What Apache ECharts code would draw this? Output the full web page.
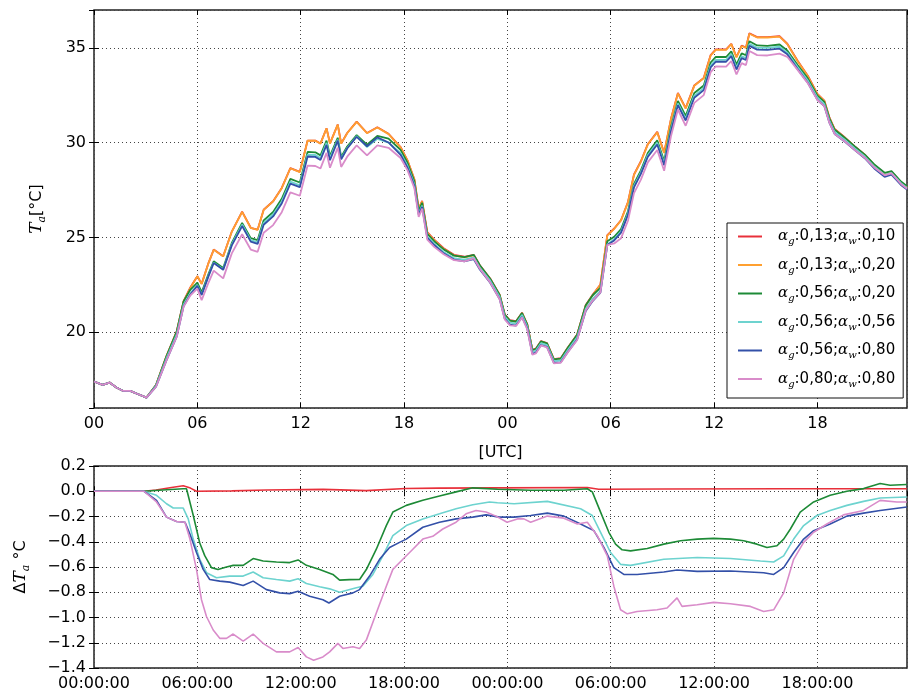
<!DOCTYPE html>
<html><head><meta charset="utf-8">
<script src="https://cdn.jsdelivr.net/npm/echarts@6/dist/echarts.min.js"></script>
<style>html,body{margin:0;padding:0;background:#fff}#c{width:908px;height:697px}</style>
</head><body><div id="c"></div>
<script>
// ---- legend labels ----
const agVals = ['0,13','0,13','0,56','0,56','0,56','0,80'];
const awVals = ['0,10','0,20','0,20','0,56','0,80','0,80'];

// ---- x tick labels ----
const topXTicks = ['00','06','12','18','00','06','12','18'];
const botXTicks = ['00:00:00','06:00:00','12:00:00','18:00:00','00:00:00','06:00:00','12:00:00','18:00:00'];

// ---- top panel: time (hours since start) and Ta [°C] ----
const hoursTop = [0,0.5,0.9,1.3,1.7,2.1,2.5,3.05,
3.6,4.2,4.8,5.2,5.6,6.0,6.25,6.65,6.95,7.5,
8.0,8.6,9.1,9.5,9.85,10.4,10.9,11.4,11.95,12.4,
12.85,13.15,13.5,13.7,14.15,14.35,14.7,15.25,15.85,16.45,
17.1,17.8,18.2,18.6,18.85,19.05,19.35,19.75,20.3,20.9,
21.5,22.05,22.4,23.0,23.55,23.85,24.15,24.5,24.85,25.15,
25.45,25.65,25.95,26.3,26.7,27.1,27.5,28.05,28.55,28.95,
29.4,29.8,30.2,30.6,31.0,31.35,31.75,32.15,32.7,33.1,
33.5,33.9,34.35,34.85,35.4,35.8,36.1,36.7,37.0,37.3,
37.6,37.85,38.05,38.5,39.1,39.8,40.25,40.85,41.45,42.0,
42.4,42.7,43.0,43.6,44.15,44.75,45.3,45.9,46.3,46.85,
47.2];

const tRed = [17.4,17.22,17.34,17.08,16.9,16.9,16.75,16.55,
17.21,18.73,20.04,21.64,22.37,22.95,22.55,23.66,24.36,24.01,
25.31,26.36,25.51,25.41,26.46,26.91,27.61,28.66,28.46,30.11,
30.11,29.96,30.76,29.96,30.96,29.96,30.51,31.11,30.51,30.81,
30.47,29.77,29.07,28.07,26.52,26.93,25.28,24.88,24.43,24.08,
23.98,24.08,23.53,22.83,21.98,20.93,20.63,20.58,21.03,20.43,
19.08,19.13,19.53,19.43,18.58,18.63,19.18,19.88,21.43,21.97,
22.52,25.12,25.47,25.92,26.87,28.32,29.02,29.92,30.57,29.47,
31.27,32.62,31.82,33.02,33.42,34.62,34.92,34.92,35.22,34.52,
35.12,35.02,35.77,35.57,35.57,35.62,35.22,34.32,33.52,32.57,
32.22,31.32,30.72,30.27,29.82,29.37,28.82,28.37,28.47,27.92,
27.67];

const tOrange = [17.4,17.22,17.34,17.08,16.9,16.9,16.75,16.55,
17.2,18.7,20.0,21.6,22.35,22.95,22.55,23.65,24.35,24.0,
25.3,26.35,25.5,25.4,26.45,26.9,27.6,28.65,28.45,30.1,
30.1,29.95,30.75,29.95,30.95,29.95,30.5,31.1,30.5,30.8,
30.45,29.75,29.05,28.05,26.5,26.9,25.25,24.85,24.4,24.05,
23.95,24.05,23.5,22.8,21.95,20.9,20.6,20.55,21.0,20.4,
19.05,19.1,19.5,19.4,18.55,18.6,19.15,19.85,21.4,21.95,
22.5,25.1,25.45,25.9,26.85,28.3,29.0,29.9,30.55,29.45,
31.25,32.6,31.8,33.0,33.4,34.6,34.9,34.9,35.2,34.5,
35.1,35.0,35.75,35.55,35.55,35.6,35.2,34.3,33.5,32.55,
32.2,31.3,30.7,30.25,29.8,29.35,28.8,28.35,28.45,27.9,
27.65];

const tGreen = [17.4,17.22,17.34,17.08,16.9,16.9,16.75,16.55,
17.21,18.71,20.02,21.62,22.25,22.62,22.11,23.08,23.74,23.39,
24.71,25.76,24.96,24.86,25.9,26.34,27.04,28.09,27.9,29.51,
29.49,29.33,30.11,29.3,30.26,29.25,29.8,30.4,29.89,30.36,
30.21,29.62,28.94,27.96,26.42,26.83,25.19,24.8,24.37,24.04,
23.96,24.08,23.53,22.82,21.97,20.92,20.61,20.56,21.01,20.41,
19.06,19.11,19.51,19.41,18.56,18.61,19.16,19.87,21.42,21.95,
22.34,24.8,25.03,25.44,26.38,27.83,28.54,29.45,30.12,29.03,
30.84,32.2,31.41,32.62,33.02,34.23,34.53,34.52,34.82,34.12,
34.71,34.61,35.35,35.13,35.11,35.18,34.86,34.1,33.38,32.48,
32.15,31.27,30.68,30.25,29.81,29.37,28.85,28.41,28.5,27.95,
27.7];

const tCyan = [17.4,17.22,17.34,17.08,16.9,16.9,16.75,16.55,
17.17,18.6,19.87,21.45,22.06,22.48,21.98,22.99,23.67,23.32,
24.63,25.68,24.86,24.74,25.77,26.21,26.9,27.94,27.75,29.37,
29.35,29.19,29.99,29.18,30.16,29.15,29.72,30.34,29.77,30.2,
30.0,29.45,28.78,27.8,26.26,26.68,25.04,24.66,24.23,23.91,
23.83,23.95,23.4,22.72,21.86,20.81,20.51,20.45,20.91,20.31,
18.96,19.02,19.42,19.32,18.47,18.51,19.05,19.73,21.24,21.76,
22.18,24.63,24.91,25.32,26.27,27.72,28.43,29.34,30.0,28.91,
30.72,32.07,31.27,32.47,32.88,34.07,34.37,34.37,34.67,33.96,
34.56,34.46,35.21,35.0,35.0,35.06,34.75,33.99,33.26,32.37,
32.03,31.15,30.56,30.14,29.71,29.27,28.74,28.3,28.4,27.86,
27.61];

const tBlue = [17.4,17.22,17.34,17.08,16.9,16.9,16.75,16.55,
17.13,18.5,19.76,21.36,22.0,22.45,21.96,22.96,23.65,23.29,
24.58,25.6,24.78,24.66,25.67,26.11,26.79,27.84,27.65,29.27,
29.25,29.09,29.88,29.07,30.11,29.12,29.69,30.31,29.81,30.28,
30.01,29.36,28.68,27.72,26.2,26.61,24.98,24.6,24.16,23.83,
23.74,23.85,23.31,22.61,21.75,20.7,20.4,20.35,20.8,20.21,
18.86,18.92,19.32,19.23,18.38,18.41,18.94,19.61,21.12,21.64,
22.09,24.6,24.84,25.25,26.19,27.64,28.35,29.25,29.9,28.81,
30.62,31.98,31.17,32.37,32.77,33.97,34.27,34.27,34.57,33.86,
34.46,34.36,35.11,34.91,34.9,34.96,34.66,33.88,33.15,32.26,
31.93,31.04,30.46,30.05,29.62,29.18,28.64,28.2,28.31,27.77,
27.53];

const tPink = [17.4,17.22,17.34,17.08,16.9,16.9,16.75,16.55,
17.12,18.5,19.76,21.35,21.95,22.3,21.69,22.62,23.25,22.84,
24.16,25.17,24.36,24.24,25.25,25.65,26.33,27.38,27.2,28.79,
28.77,28.64,29.46,28.68,29.74,28.72,29.26,29.86,29.33,29.86,
29.73,29.19,28.55,27.6,26.08,26.52,24.88,24.5,24.11,23.8,
23.74,23.9,23.35,22.63,21.74,20.67,20.36,20.33,20.78,20.16,
18.81,18.88,19.3,19.2,18.35,18.39,18.93,19.59,21.16,21.67,
22.1,24.59,24.68,24.96,25.88,27.34,28.05,28.96,29.61,28.52,
30.35,31.75,30.89,32.1,32.51,33.72,34.02,34.01,34.31,33.6,
34.2,34.09,34.84,34.62,34.6,34.7,34.53,33.84,33.13,32.25,
31.93,31.04,30.46,30.06,29.63,29.2,28.69,28.28,28.38,27.82,
27.57];

// ---- bottom panel: [hour, ΔTa] ----
const dRed = [[0,0],[2.9,0],[3.6,0.01],[4.5,0.03],[5.18,0.043],[5.6,0.025],[5.95,0.0],[8,0.003],[10,0.01],[13.3,0.015],[15.8,0.005],[18.1,0.022],[20,0.025],[23.4,0.027],[28.64,0.03],[29.3,0.016],[33,0.018],[40,0.02],[47.19,0.02]];

const dGreen = [[0,0],[2.9,0],[4,0.01],[5.18,0.02],[5.37,0.02],[5.76,-0.19],[6.14,-0.41],[6.43,-0.51],[6.82,-0.605],[7.2,-0.62],[7.69,-0.6],[8.08,-0.587],[8.66,-0.587],[9.24,-0.533],[9.82,-0.552],[10.59,-0.56],[11.36,-0.565],[11.85,-0.544],[12.33,-0.587],[13.1,-0.619],[13.87,-0.659],[14.26,-0.704],[14.84,-0.7],[15.42,-0.699],[15.81,-0.62],[16.39,-0.459],[16.97,-0.272],[17.35,-0.165],[18.13,-0.112],[19.09,-0.072],[20.06,-0.037],[21.02,-0.005],[21.99,0.027],[23.42,0.016],[25.35,0.008],[27.28,0.008],[28.64,0.02],[28.93,-0.005],[29.41,-0.165],[29.89,-0.325],[30.28,-0.419],[30.66,-0.464],[31.15,-0.472],[32.12,-0.453],[33.08,-0.419],[34.05,-0.392],[35.02,-0.379],[35.98,-0.373],[36.95,-0.379],[37.72,-0.392],[38.49,-0.419],[39.07,-0.445],[39.65,-0.432],[40.04,-0.379],[40.43,-0.299],[41.0,-0.165],[41.78,-0.085],[42.74,-0.032],[43.71,0],[44.68,0.021],[45.64,0.061],[46.22,0.048],[47.19,0.053]];

const dCyan = [[0,0],[2.9,0],[3.63,-0.032],[4.21,-0.099],[4.6,-0.133],[5.18,-0.133],[5.47,-0.219],[5.76,-0.379],[6.14,-0.539],[6.53,-0.645],[7.11,-0.685],[7.88,-0.672],[8.66,-0.672],[9.24,-0.64],[9.82,-0.685],[10.59,-0.699],[11.36,-0.712],[11.85,-0.693],[12.33,-0.731],[13.1,-0.757],[13.68,-0.773],[14.26,-0.8],[15.23,-0.765],[15.61,-0.752],[16.19,-0.659],[16.77,-0.512],[17.35,-0.352],[18.13,-0.272],[19.09,-0.219],[20.06,-0.179],[21.02,-0.139],[21.99,-0.107],[22.96,-0.085],[23.42,-0.091],[24.39,-0.099],[26.32,-0.08],[28.25,-0.139],[28.93,-0.192],[29.41,-0.325],[29.99,-0.485],[30.57,-0.579],[31.15,-0.587],[33.08,-0.539],[35.02,-0.525],[36.95,-0.533],[38.69,-0.552],[39.46,-0.56],[40.04,-0.512],[40.62,-0.379],[41.2,-0.272],[41.97,-0.192],[42.74,-0.152],[43.71,-0.112],[44.68,-0.08],[45.64,-0.053],[47.19,-0.045]];

const dBlue = [[0,0],[2.9,0],[3.63,-0.072],[4.21,-0.205],[4.79,-0.24],[5.28,-0.245],[5.57,-0.339],[5.95,-0.485],[6.34,-0.619],[6.72,-0.699],[7.3,-0.712],[7.88,-0.72],[8.66,-0.747],[9.24,-0.712],[10.01,-0.779],[10.78,-0.805],[11.36,-0.811],[11.85,-0.792],[12.52,-0.832],[13.29,-0.859],[13.64,-0.885],[14.26,-0.832],[15.03,-0.805],[15.42,-0.779],[16.0,-0.672],[16.58,-0.539],[17.16,-0.445],[17.74,-0.405],[18.13,-0.379],[19.09,-0.285],[20.06,-0.245],[21.02,-0.219],[21.99,-0.205],[22.76,-0.187],[23.54,-0.205],[24.39,-0.205],[25.35,-0.192],[26.32,-0.173],[27.28,-0.197],[28.25,-0.259],[29.02,-0.312],[29.6,-0.445],[30.18,-0.605],[30.76,-0.659],[31.53,-0.659],[33.08,-0.64],[33.85,-0.624],[35.02,-0.635],[36.95,-0.632],[38.88,-0.645],[39.46,-0.659],[40.04,-0.605],[40.62,-0.485],[41.2,-0.379],[41.78,-0.312],[42.74,-0.259],[43.71,-0.197],[44.68,-0.173],[45.64,-0.152],[47.19,-0.125]];

const dPink = [[0,0],[2.9,0],[3.63,-0.085],[4.21,-0.205],[4.79,-0.24],[5.28,-0.245],[5.57,-0.379],[5.95,-0.619],[6.24,-0.859],[6.53,-0.992],[6.92,-1.099],[7.3,-1.165],[7.69,-1.165],[8.08,-1.131],[8.66,-1.187],[9.24,-1.131],[9.82,-1.205],[10.59,-1.272],[11.36,-1.272],[11.85,-1.237],[12.33,-1.312],[12.75,-1.339],[13.29,-1.312],[13.68,-1.272],[14.16,-1.205],[14.45,-1.245],[15.03,-1.232],[15.42,-1.245],[15.81,-1.179],[16.39,-0.965],[16.97,-0.752],[17.35,-0.619],[17.93,-0.539],[18.51,-0.459],[19.09,-0.379],[19.67,-0.357],[20.25,-0.299],[21.02,-0.245],[21.6,-0.179],[22.18,-0.152],[22.76,-0.165],[23.34,-0.197],[23.98,-0.245],[24.58,-0.219],[24.96,-0.219],[25.35,-0.245],[26.32,-0.197],[27.28,-0.213],[28.06,-0.259],[28.64,-0.245],[29.22,-0.352],[29.8,-0.512],[30.18,-0.752],[30.57,-0.939],[30.96,-0.971],[31.53,-0.952],[32.69,-0.939],[33.27,-0.925],[33.85,-0.845],[34.14,-0.912],[35.02,-0.899],[35.98,-0.88],[36.95,-0.891],[38.11,-0.912],[38.88,-0.952],[39.46,-0.939],[40.04,-0.805],[40.62,-0.539],[41.2,-0.405],[41.78,-0.325],[42.55,-0.259],[43.51,-0.187],[44.68,-0.152],[45.64,-0.072],[46.61,-0.085],[47.19,-0.085]];

// ---- chart ----
const colors = ['#e8303a','#ffa030','#1d8a36','#6dd3cf','#3350a8','#d98cca'];
const names = agVals.map((g,i)=>'αg:'+g+';αw:'+awVals[i]);
const topSeries = [tRed,tOrange,tGreen,tCyan,tBlue,tPink];
const botSeries = [dRed,null,dGreen,dCyan,dBlue,dPink];

const FONT = 'DejaVu Sans';
const XMAX = 47.2;
const gridLine = {show:true, lineStyle:{color:'#444', type:[1,3], width:1}};
const tick = {show:true, inside:true, length:5, lineStyle:{color:'#000', width:1}};
const lbl = {color:'#000', fontFamily:FONT, fontSize:16};

function xAxis(grid, pos, labels) {
  return {type:'value', gridIndex:grid, position:pos, min:0, max:XMAX, interval:6,
    axisLine:{show:false}, axisTick:tick,
    axisLabel:Object.assign({show:!!labels, showMaxLabel:false, margin:8,
      formatter:(v)=>labels?labels[Math.round(v/6)]:''}, lbl),
    splitLine: pos==='bottom' ? gridLine : {show:false}};
}

const rich = {
  i:{fontFamily:'DejaVu Serif', fontStyle:'italic', fontSize:17, lineHeight:22, color:'#000'},
  s:{fontFamily:'DejaVu Serif', fontStyle:'italic', fontSize:11, lineHeight:11, verticalAlign:'bottom', color:'#000'},
  n:{fontFamily:FONT, fontSize:16, lineHeight:22, color:'#000'}
};

const option = {
  animation:false,
  backgroundColor:'#fff',
  grid:[
    {left:94, top:10, width:813, height:398, show:true, borderColor:'#222', borderWidth:1.5, backgroundColor:'transparent'},
    {left:94, top:466, width:813, height:202, show:true, borderColor:'#222', borderWidth:1.5, backgroundColor:'transparent'}
  ],
  xAxis:[
    Object.assign(xAxis(0,'bottom',topXTicks), {name:'[UTC]', nameLocation:'middle', nameGap:37,
      nameTextStyle:{color:'#000', fontFamily:FONT, fontSize:16}}),
    xAxis(0,'top',null),
    xAxis(1,'bottom',botXTicks),
    xAxis(1,'top',null)
  ],
  yAxis:[
    {type:'value', gridIndex:0, position:'left', min:16, max:37, splitNumber:4, minInterval:5, maxInterval:5,
     axisLine:{show:false}, axisTick:tick, splitLine:gridLine,
     axisLabel:Object.assign({showMinLabel:false, showMaxLabel:false, margin:8}, lbl),
     name:'{i|T}{s|a}{n|[°C]}', nameLocation:'middle', nameGap:46, nameTextStyle:{rich:rich}},
    {type:'value', gridIndex:0, position:'right', min:16, max:37, splitNumber:4, minInterval:5, maxInterval:5,
     axisLine:{show:false}, axisTick:tick, splitLine:{show:false}, axisLabel:{show:false}},
    {type:'value', gridIndex:1, position:'left', min:-1.4, max:0.2, interval:0.2,
     axisLine:{show:false}, axisTick:tick, splitLine:gridLine,
     axisLabel:Object.assign({margin:8, formatter:(v)=>(v< -1e-9?'−':'')+Math.abs(v).toFixed(1)}, lbl),
     name:'{n|Δ}{i|T}{s|a}{n| °C}', nameLocation:'middle', nameGap:62, nameTextStyle:{rich:rich}},
    {type:'value', gridIndex:1, position:'right', min:-1.4, max:0.2, interval:0.2,
     axisLine:{show:false}, axisTick:tick, splitLine:{show:false}, axisLabel:{show:false}}
  ],
  legend:{
    data:names.map(n=>({name:n, icon:'rect'})), orient:'vertical', left:727, top:223,
    padding:[6,8,9,11], itemWidth:24, itemHeight:2, itemGap:11,
    backgroundColor:'#fff', borderColor:'#111', borderWidth:1, borderRadius:0,
    selectedMode:false,
    formatter:(name)=>{const i=names.indexOf(name);
      return '{sp|}{a|α}{s|g}{t|:'+agVals[i]+';}{a|α}{s|w}{t|:'+awVals[i]+'}';},
    textStyle:{rich:{
      sp:{width:11},
      a:{fontFamily:'DejaVu Serif', fontStyle:'italic', fontSize:15, lineHeight:20, color:'#000'},
      s:{fontFamily:'DejaVu Serif', fontStyle:'italic', fontSize:10, lineHeight:10, verticalAlign:'bottom', color:'#000'},
      t:{fontFamily:FONT, fontSize:15, lineHeight:20, color:'#000'}
    }}
  },
  series:[]
};

topSeries.forEach((arr,i)=>{
  option.series.push({type:'line', name:names[i], xAxisIndex:0, yAxisIndex:0,
    data:hoursTop.map((h,j)=>[h,arr[j]]), symbol:'none', showSymbol:false,
    lineStyle:{width:1.8, color:colors[i]}, itemStyle:{color:colors[i]}, z:2+i});
});
botSeries.forEach((arr,i)=>{
  if(!arr) return;
  option.series.push({type:'line', name:names[i], xAxisIndex:2, yAxisIndex:2,
    data:arr, symbol:'none', showSymbol:false,
    lineStyle:{width:1.6, color:colors[i]}, itemStyle:{color:colors[i]}, z:2+i});
});

const chart = echarts.init(document.getElementById('c'));
chart.setOption(option);
</script>
</body></html>
